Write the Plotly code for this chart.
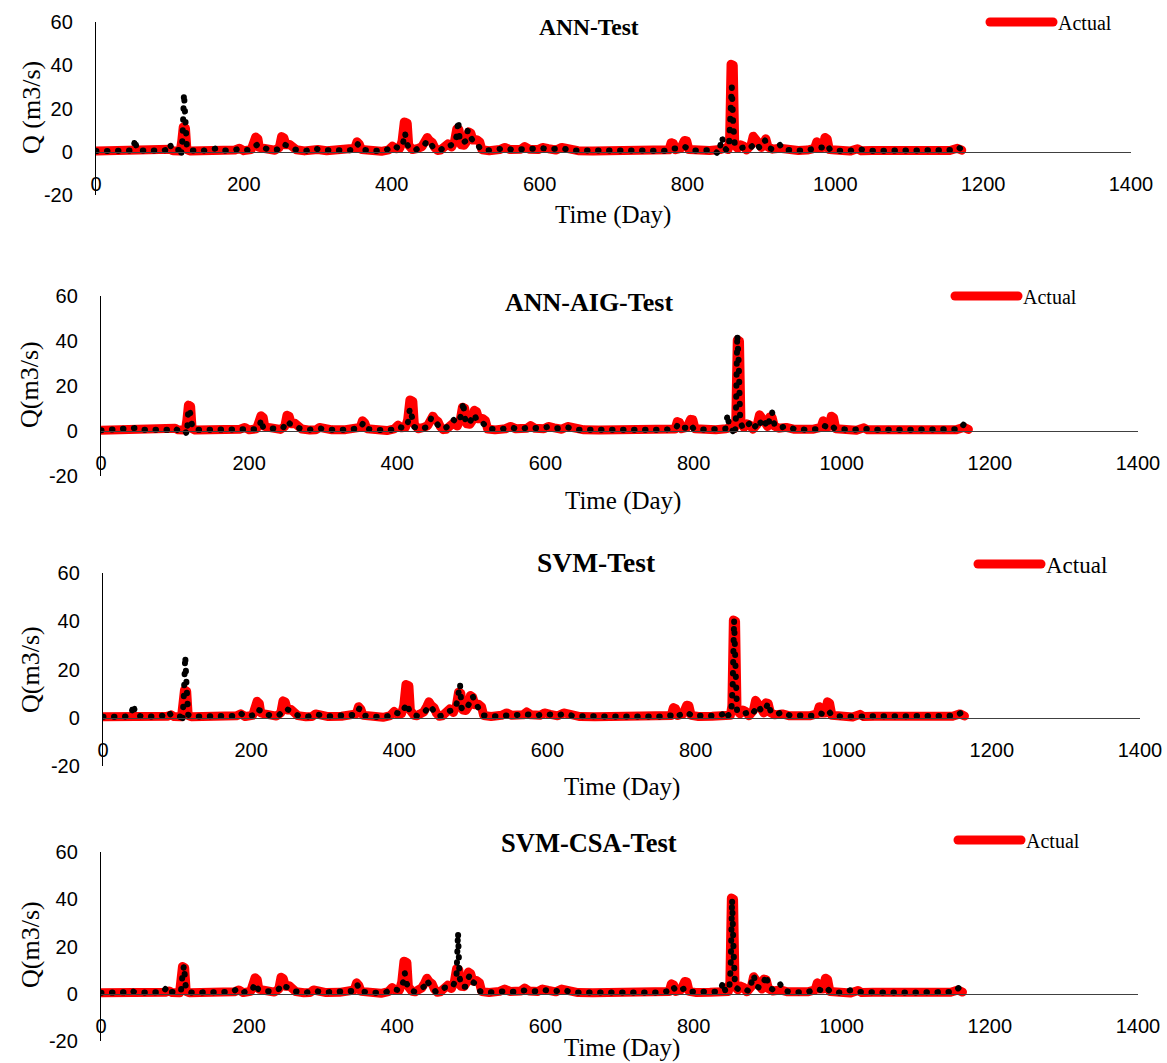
import plotly.graph_objects as go

# ---------------- data ----------------
# Observed discharge, knots (day index in the ANN test set, Q in m3/s)
actual_day = [0, 8, 30, 45, 60, 80, 95, 100, 104, 114, 116, 118, 121, 123, 127, 150, 163, 172, 188, 194,
              200, 210, 213, 216, 219, 221, 226, 233, 242, 248, 251, 254, 257, 262, 266, 271, 282, 290, 295, 300,
              312, 330, 345, 350, 353, 356, 359, 372, 386, 396, 401, 406, 411, 414, 417, 421, 423, 428, 432, 436,
              441, 445, 448, 451, 455, 458, 462, 466, 471, 476, 481, 485, 488, 491, 494, 498, 502, 504, 507, 510,
              515, 519, 522, 532, 546, 553, 560, 575, 580, 586, 598, 604, 612, 622, 630, 640, 652, 672, 695, 720,
              745, 765, 775, 778, 781, 784, 791, 796, 799, 802, 812, 830, 844, 850, 855, 857, 859, 862, 864, 868,
              872, 876, 880, 886, 889, 892, 895, 900, 903, 906, 909, 915, 925, 935, 950, 962, 972, 975, 978, 983,
              986, 989, 992, 1000, 1012, 1020, 1030, 1035, 1050, 1070, 1090, 1110, 1128, 1138, 1144, 1155, 1165, 1171]
actual_q = [0.3, 0.4, 0.3, 0.6, 0.4, 0.5, 0.6, 1.2, 0.5, 0.4, 5.0, 11.5, 11.0, 1.0, 0.4, 0.4, 0.9, 0.4, 0.8, 1.6,
            0.5, 1.0, 4.0, 6.8, 6.0, 2.0, 1.6, 1.2, 0.7, 2.0, 7.0, 6.5, 3.2, 3.4, 2.6, 0.9, 0.4, 0.5, 1.6, 1.0,
            0.5, 0.6, 0.8, 1.6, 4.6, 3.6, 1.0, 0.4, 0.2, 0.9, 2.6, 1.4, 1.6, 5.0, 13.8, 13.2, 3.0, 1.0, 0.8, 1.6,
            2.4, 4.6, 6.6, 5.2, 4.2, 2.0, 0.6, 0.8, 3.0, 3.6, 2.2, 5.0, 10.6, 10.2, 3.2, 3.0, 5.0, 9.2, 8.6, 5.4,
            5.6, 4.6, 0.9, 0.5, 1.0, 2.0, 1.0, 1.2, 2.4, 1.2, 1.0, 2.0, 1.4, 0.8, 2.0, 1.4, 0.5, 0.4, 0.5, 0.4,
            0.5, 0.4, 0.9, 4.2, 3.8, 1.0, 1.6, 5.2, 5.0, 1.0, 0.5, 0.6, 1.0, 1.6, 1.0, 5.0, 40.5, 40.0, 3.0, 1.6,
            3.2, 2.6, 0.8, 3.0, 7.2, 6.2, 4.6, 2.0, 6.2, 6.0, 2.2, 1.2, 1.6, 0.8, 0.6, 0.8, 1.6, 4.6, 2.0, 2.0,
            6.6, 6.0, 1.0, 0.8, 0.5, 0.3, 1.4, 0.5, 0.6, 0.6, 0.4, 0.6, 0.5, 1.2, 0.4, 0.6, 1.6, 0.7]

# ANN predictions
pred_ann_day = [0, 8, 30, 46, 50, 53, 55, 62, 75, 90, 97, 100, 103, 110, 113, 115, 117, 119, 121, 123,
                128, 145, 162, 170, 185, 192, 200, 210, 213, 216, 219, 223, 232, 245, 251, 254, 258, 264, 270, 285,
                296, 305, 320, 340, 350, 354, 358, 375, 392, 402, 410, 415, 418, 420, 424, 432, 438, 444, 448, 452,
                456, 462, 467, 472, 477, 482, 486, 488, 490, 492, 496, 500, 503, 506, 510, 515, 520, 530, 545, 553,
                562, 578, 590, 605, 615, 630, 645, 670, 700, 725, 750, 770, 779, 790, 797, 805, 820, 835, 842, 845,
                847, 849, 853, 856, 858, 860, 862, 864, 870, 876, 882, 889, 893, 898, 905, 909, 917, 925, 930, 945,
                960, 975, 982, 988, 993, 1005, 1020, 1032, 1045, 1070, 1100, 1130, 1145, 1160, 1167, 1171]
pred_ann_q = [0.3, 0.3, 0.4, 0.8, 0.6, 6.0, 1.0, 0.6, 0.4, 0.5, 1.0, 3.6, 0.6, 0.5, 0.8, -2.0, 6.0, 27.0, 12.0, 1.5,
              0.6, 0.5, 1.5, 0.5, 0.8, 1.2, 0.6, 1.0, 2.0, 3.0, 3.5, 2.5, 1.2, 1.0, 2.0, 3.5, 3.0, 2.4, 1.0, 0.5,
              1.5, 0.8, 0.5, 0.6, 1.0, 3.5, 1.0, 0.4, 0.6, 2.8, 1.5, 3.5, 8.8, 4.0, 1.5, 0.8, 2.0, 3.0, 5.2, 4.2,
              2.0, 0.7, 1.0, 2.6, 2.4, 3.0, 4.2, 8.0, 14.6, 5.0, 4.0, 5.0, 10.0, 7.0, 5.0, 4.0, 1.2, 0.6, 1.0, 1.6,
              1.0, 1.4, 1.2, 1.6, 1.2, 1.6, 0.6, 0.5, 0.5, 0.6, 0.6, 0.5, 1.6, 1.4, 2.2, 0.6, 0.6, 0.8, -1.0, 3.0,
              6.8, 2.0, 0.8, 1.5, 14.0, 30.0, 12.0, 3.5, 1.6, 2.0, 1.0, 3.4, 4.2, 1.6, 5.2, 1.8, 1.0, 3.2, 1.0, 0.6,
              0.6, 1.6, 2.0, 3.4, 1.0, 0.5, 0.5, 1.2, 0.5, 0.5, 0.5, 0.6, 0.5, 0.8, 2.0, 1.0]

# ANN-AIG predictions
pred_aig_day = [0, 8, 40, 50, 55, 70, 90, 98, 103, 113, 116, 118, 120, 122, 124, 130, 160, 175, 190, 198,
                210, 214, 216, 219, 224, 235, 246, 251, 255, 262, 268, 280, 295, 305, 330, 350, 354, 358, 372, 392,
                400, 410, 414, 417, 420, 423, 430, 438, 443, 446, 449, 452, 456, 462, 468, 472, 476, 480, 484, 487,
                489, 491, 494, 498, 501, 504, 507, 512, 517, 522, 540, 553, 565, 578, 590, 604, 615, 630, 645, 670,
                700, 730, 760, 776, 779, 783, 790, 796, 800, 815, 835, 843, 846, 848, 852, 855, 857, 859, 861, 863,
                867, 872, 876, 880, 886, 889, 892, 896, 900, 903, 906, 909, 915, 925, 935, 950, 965, 975, 980, 986,
                990, 1000, 1015, 1030, 1045, 1070, 1100, 1125, 1140, 1150, 1160, 1166, 1171]
pred_aig_q = [0.3, 0.4, 0.8, 1.4, 0.6, 0.5, 0.5, 1.4, 0.5, 0.6, -1.5, 10.0, 9.0, 4.0, 1.0, 0.5, 0.6, 0.5, 1.2, 0.6,
              0.8, 1.5, 5.2, 1.5, 1.2, 1.0, 1.5, 4.5, 3.2, 2.8, 1.2, 0.5, 1.2, 0.6, 0.6, 1.2, 3.6, 1.0, 0.4, 0.6,
              2.0, 1.2, 3.0, 10.0, 6.0, 1.8, 0.8, 1.5, 3.0, 6.0, 5.0, 3.5, 2.2, 0.8, 2.0, 4.0, 5.0, 3.6, 5.0, 8.0,
              13.0, 6.0, 3.0, 4.0, 6.0, 7.5, 5.0, 4.6, 3.0, 0.9, 0.8, 1.6, 0.8, 1.6, 1.2, 1.8, 1.2, 1.6, 0.6, 0.5,
              0.5, 0.5, 0.5, 1.2, 3.0, 1.4, 1.5, 3.0, 1.0, 0.6, 0.8, 1.0, 7.5, 2.0, 0.8, -2.0, 3.0, 43.0, 30.0, 4.0,
              1.0, 2.5, 3.5, 1.0, 3.0, 5.0, 2.0, 4.0, 1.5, 6.0, 8.5, 3.0, 1.2, 2.2, 1.0, 0.6, 0.8, 2.5, 1.8, 2.8,
              1.2, 0.8, 0.5, 1.0, 0.5, 0.5, 0.5, 0.6, 0.8, 0.5, 0.8, 3.5, 1.0]

# SVM predictions
pred_svm_day = [0, 8, 38, 46, 49, 52, 60, 80, 92, 97, 100, 112, 115, 117, 119, 121, 123, 130, 150, 170,
                188, 193, 200, 210, 214, 216, 220, 225, 235, 246, 251, 255, 260, 266, 272, 285, 297, 310, 330, 350,
                354, 358, 375, 392, 402, 410, 415, 418, 421, 425, 432, 438, 444, 448, 452, 456, 462, 468, 473, 478,
                483, 486, 488, 490, 492, 497, 501, 504, 507, 511, 516, 521, 535, 550, 565, 580, 595, 605, 620, 632,
                645, 670, 700, 730, 760, 776, 780, 785, 797, 803, 820, 838, 845, 848, 852, 856, 858, 860, 862, 864,
                870, 877, 883, 889, 893, 897, 903, 906, 909, 916, 925, 935, 950, 965, 975, 980, 987, 992, 1005, 1020,
                1032, 1045, 1070, 1100, 1130, 1145, 1160, 1166, 1171]
pred_svm_q = [0.3, 0.4, 0.5, 1.2, 5.6, 1.0, 0.6, 0.5, 1.0, 2.5, 0.8, 0.5, -2.0, 8.0, 25.6, 12.0, 1.2, 0.5, 0.5, 0.6,
              0.8, 2.0, 0.6, 1.0, 2.0, 3.5, 3.0, 1.5, 1.0, 1.2, 3.2, 3.8, 3.0, 2.0, 0.8, 0.5, 1.4, 0.6, 0.6, 1.2,
              3.8, 1.0, 0.4, 0.6, 2.2, 1.5, 4.0, 6.0, 3.5, 1.5, 0.8, 1.5, 3.0, 5.0, 4.0, 2.0, 0.6, 1.2, 2.5, 3.2,
              3.5, 6.5, 10.0, 14.0, 4.0, 3.0, 5.0, 7.5, 9.0, 6.0, 4.0, 1.0, 0.6, 1.0, 0.8, 1.4, 1.0, 1.6, 1.0, 1.6,
              0.6, 0.5, 0.5, 0.5, 0.5, 1.0, 2.0, 1.0, 2.2, 0.8, 0.6, 0.8, 1.5, 3.0, 1.0, 1.5, 12.0, 40.5, 20.0, 3.0,
              1.5, 2.0, 1.0, 4.0, 5.0, 2.5, 4.0, 6.2, 3.0, 1.2, 2.4, 1.0, 0.6, 0.8, 2.0, 1.5, 3.0, 1.0, 0.5, 0.5,
              1.0, 0.5, 0.5, 0.5, 0.6, 0.5, 0.8, 2.0, 1.0]

# SVM-CSA predictions
pred_csa_day = [0, 8, 40, 46, 50, 55, 75, 92, 97, 100, 112, 116, 118, 120, 122, 124, 130, 160, 185, 193,
                200, 212, 216, 220, 226, 240, 248, 252, 256, 262, 270, 285, 296, 310, 330, 350, 354, 358, 375, 392,
                402, 410, 415, 418, 421, 425, 432, 438, 444, 447, 451, 455, 460, 466, 472, 478, 483, 486, 488, 490,
                492, 495, 500, 503, 506, 510, 515, 520, 535, 550, 565, 580, 595, 605, 620, 632, 645, 670, 700, 730,
                760, 776, 780, 785, 797, 803, 820, 838, 844, 848, 851, 856, 858, 860, 862, 864, 870, 877, 883, 889,
                893, 898, 903, 906, 909, 916, 925, 930, 945, 960, 975, 980, 987, 992, 1005, 1020, 1030, 1045, 1070, 1100,
                1130, 1145, 1160, 1166, 1171]
pred_csa_q = [0.3, 0.4, 0.6, 1.4, 1.0, 0.6, 0.5, 0.8, 2.8, 0.8, 0.6, 1.0, 8.0, 12.0, 4.0, 1.0, 0.5, 0.5, 0.8, 2.2,
              0.6, 1.5, 4.5, 2.0, 1.2, 1.0, 2.0, 4.0, 3.0, 2.6, 1.0, 0.5, 1.2, 0.6, 0.6, 1.2, 3.8, 1.0, 0.4, 0.6,
              2.0, 1.5, 3.5, 9.0, 4.0, 1.5, 0.8, 1.6, 3.0, 5.8, 4.0, 2.5, 0.8, 1.0, 2.6, 2.6, 3.0, 5.5, 8.0, 26.0,
              7.0, 3.0, 3.0, 6.0, 8.0, 5.0, 3.8, 1.0, 0.6, 1.0, 0.8, 1.4, 1.0, 1.6, 1.0, 1.6, 0.6, 0.5, 0.5, 0.5,
              0.5, 1.2, 3.0, 1.0, 2.4, 0.8, 0.6, 0.8, 1.5, 4.8, 1.0, 1.5, 10.0, 40.0, 18.0, 3.0, 1.5, 2.0, 1.0, 8.0,
              3.0, 2.5, 5.0, 8.0, 3.0, 1.5, 4.0, 1.2, 0.6, 0.6, 2.0, 1.5, 2.8, 1.0, 0.5, 1.5, 0.8, 0.5, 0.5, 0.5,
              0.6, 0.5, 0.8, 2.5, 1.0]

# SVM test sets start this many days later than the ANN ones
svm_lag_days = 8

titles = ["ANN-Test", "ANN-AIG-Test", "SVM-Test", "SVM-CSA-Test"]
ylabels = ["Q (m3/s)", "Q(m3/s)", "Q(m3/s)", "Q(m3/s)"]
x_ticks = [0, 200, 400, 600, 800, 1000, 1200, 1400]
y_ticks = [-20, 0, 20, 40, 60]
y_tick_text = ["-20", "0", "20", "40", "60"]

# ---------------- layout geometry (pixels) ----------------
W, H = 1167, 1063
geom = [
    dict(x0=96, x1=1131, yt=22, yb=195, yz=152, title=(589, 27, 23.5), xt=(613, 215), yl=(32, 108), leg=(987, 22, 20), lag=0),
    dict(x0=101, x1=1138, yt=296, yb=476, yz=431, title=(589, 303, 26), xt=(623, 501), yl=(30, 385), leg=(952, 296, 20), lag=0),
    dict(x0=103, x1=1140, yt=573, yb=766, yz=718, title=(596, 562, 27.5), xt=(622, 787), yl=(30, 670), leg=(975, 564, 23), lag=svm_lag_days),
    dict(x0=101, x1=1138, yt=852, yb=1041, yz=994, title=(589, 843, 26.5), xt=(622, 1048), yl=(30, 945), leg=(955, 840, 20), lag=svm_lag_days),
]
preds = [(pred_ann_day, pred_ann_q), (pred_aig_day, pred_aig_q), (pred_svm_day, pred_svm_q), (pred_csa_day, pred_csa_q)]


def px(x):
    return x / W


def py(y):
    return 1 - y / H


def shift(days, vals, lag):
    xs, ys = [], []
    for d, v in zip(days, vals):
        if d - lag >= 0:
            xs.append(d - lag)
            ys.append(v)
    return xs, ys


SERIF = "Liberation Serif"
SANS = "Liberation Sans"

fig = go.Figure()
layout = dict(width=W, height=H, margin=dict(l=0, r=0, t=0, b=0, autoexpand=False), autosize=False,
              plot_bgcolor="white", paper_bgcolor="white", showlegend=True)
annotations = []

for i, g in enumerate(geom):
    n = i + 1
    xa = "x" if n == 1 else f"x{n}"
    ya = "y" if n == 1 else f"y{n}"
    xkey = "xaxis" if n == 1 else f"xaxis{n}"
    ykey = "yaxis" if n == 1 else f"yaxis{n}"
    legkey = "legend" if n == 1 else f"legend{n}"

    ax, ay = shift(actual_day, actual_q, g["lag"])
    pdx, pdy = shift(preds[i][0], preds[i][1], g["lag"])

    fig.add_trace(go.Scatter(x=ax, y=ay, mode="lines", name="Actual",
                             line=dict(color="#FF0000", width=9),
                             xaxis=xa, yaxis=ya, legend=legkey, showlegend=True))
    fig.add_trace(go.Scatter(x=pdx, y=pdy, mode="lines", name="Predicted",
                             line=dict(color="#000000", width=6, dash="0.5px,10.5px"),
                             xaxis=xa, yaxis=ya, showlegend=False))

    ydom = [py(g["yb"]), py(g["yt"])]
    layout[xkey] = dict(domain=[px(g["x0"]), px(g["x1"])], range=[0, 1400], anchor="free",
                        position=py(g["yz"]), tickvals=x_ticks, ticks="", showgrid=False,
                        zeroline=False, showline=True, linecolor="#404040", linewidth=1.3,
                        automargin=False,
                        tickfont=dict(family=SANS, size=20, color="black"), ticklabelstandoff=14)
    layout[ykey] = dict(domain=ydom, range=[-20, 60], anchor=xa, tickvals=y_ticks, ticktext=y_tick_text,
                        ticks="", showgrid=False, zeroline=False, showline=True, linecolor="black",
                        linewidth=1.3, automargin=False,
                        tickfont=dict(family=SANS, size=20, color="black"), ticklabelstandoff=18)
    lx, ly, lfs = g["leg"]
    layout[legkey] = dict(x=px(lx - 2), y=py(ly), xanchor="left", yanchor="middle",
                          bgcolor="rgba(0,0,0,0)", borderwidth=0, itemwidth=63,
                          font=dict(family=SERIF, size=lfs, color="black"))

    tx, ty, tfs = g["title"]
    annotations.append(dict(text=titles[i], x=px(tx), y=py(ty), xref="paper", yref="paper",
                            showarrow=False, xanchor="center", yanchor="middle",
                            font=dict(family=SERIF, size=tfs, color="black", weight="bold")))
    xtx, xty = g["xt"]
    annotations.append(dict(text="Time (Day)", x=px(xtx), y=py(xty), xref="paper", yref="paper",
                            showarrow=False, xanchor="center", yanchor="middle",
                            font=dict(family=SERIF, size=25, color="black")))
    ylx, yly = g["yl"]
    annotations.append(dict(text=ylabels[i], x=px(ylx), y=py(yly), xref="paper", yref="paper",
                            showarrow=False, xanchor="center", yanchor="middle", textangle=-90,
                            font=dict(family=SERIF, size=26, color="black")))

layout["annotations"] = annotations
fig.update_layout(**layout)

post_js = (
    "document.body.style.margin='0';document.body.style.overflow='hidden';"
    "var st=document.createElement('style');"
    "st.textContent='path.js-line{stroke-linejoin:round !important;"
    "stroke-linecap:round !important;}';"
    "document.head.appendChild(st);"
)
fig.write_html("out.html", config={"displayModeBar": False}, post_script=post_js)
